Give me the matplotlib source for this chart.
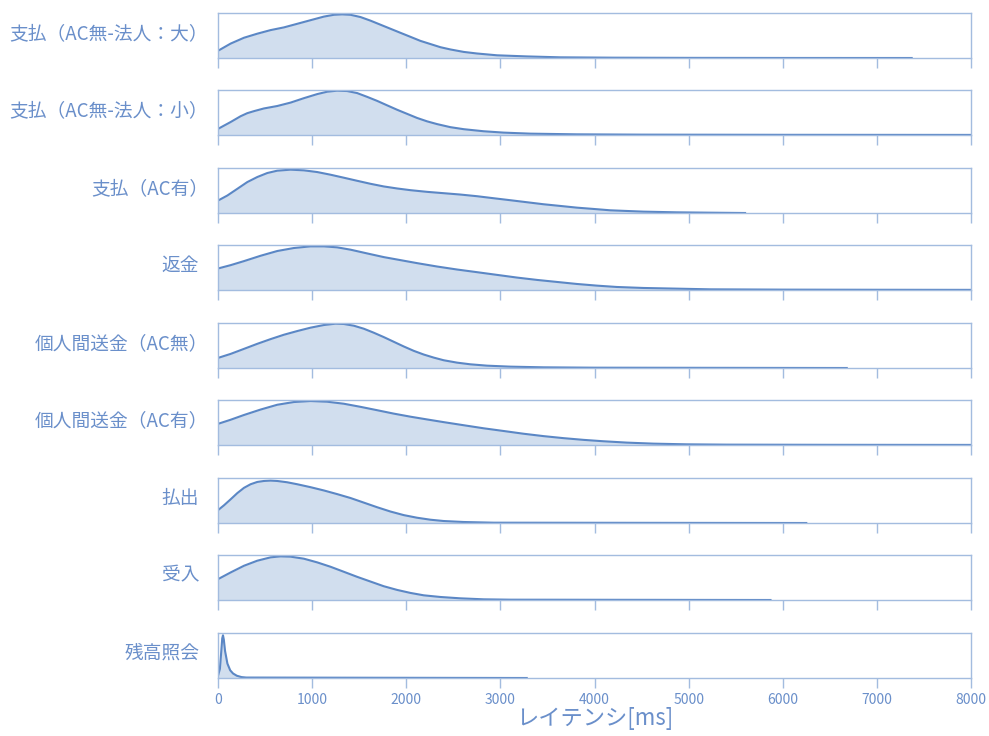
import numpy as np
import matplotlib
matplotlib.use("Agg")
import matplotlib.pyplot as plt

plt.rcParams['font.family'] = ['Noto Sans CJK JP', 'DejaVu Sans']

# labels, top to bottom
labels = [
    "支払（AC無-法人：大）",
    "支払（AC無-法人：小）",
    "支払（AC有）",
    "返金",
    "個人間送金（AC無）",
    "個人間送金（AC有）",
    "払出",
    "受入",
    "残高照会",
]

# density curves (y scaled so the axes height is 1)
x_large = [0, 134, 276, 417, 559, 700, 842, 983, 1125, 1231, 1319, 1408, 1514, 1620,
           1726, 1832, 1938, 2045, 2151, 2257, 2363, 2469, 2611, 2752, 2964, 3283,
           3636, 4200, 5000, 6000, 7370]
y_large = [0.16, 0.32, 0.45, 0.54, 0.62, 0.68, 0.76, 0.84, 0.92, 0.96, 0.97, 0.96,
           0.91, 0.83, 0.74, 0.65, 0.56, 0.47, 0.38, 0.31, 0.24, 0.19, 0.135, 0.10,
           0.06, 0.035, 0.015, 0.007, 0.003, 0.001, 0.0]

x_small = [0, 134, 240, 311, 382, 488, 629, 771, 912, 1054, 1160, 1266, 1372, 1478,
           1584, 1691, 1797, 1903, 2009, 2115, 2222, 2328, 2469, 2611, 2823, 3035,
           3318, 3813, 4500, 6000, 8000]
y_small = [0.136, 0.288, 0.417, 0.485, 0.53, 0.59, 0.644, 0.72, 0.818, 0.909, 0.962,
           0.985, 0.977, 0.932, 0.848, 0.758, 0.659, 0.561, 0.47, 0.379, 0.303, 0.242,
           0.174, 0.129, 0.083, 0.053, 0.03, 0.015, 0.008, 0.004, 0.002]

x_ac = [0, 99, 205, 311, 417, 523, 629, 771, 912, 1054, 1195, 1337, 1478, 1620, 1761,
        1903, 2045, 2221, 2398, 2575, 2752, 2929, 3106, 3283, 3460, 3636, 3813, 3990,
        4167, 4521, 4874, 5228, 5600]
y_ac = [0.276, 0.388, 0.537, 0.687, 0.799, 0.888, 0.94, 0.963, 0.948, 0.91, 0.851,
        0.784, 0.716, 0.649, 0.59, 0.545, 0.507, 0.47, 0.44, 0.41, 0.373, 0.328, 0.284,
        0.239, 0.194, 0.157, 0.119, 0.09, 0.06, 0.03, 0.015, 0.007, 0.0]

x_refund = [0, 134, 276, 453, 629, 806, 983, 1125, 1266, 1408, 1584, 1761, 1938, 2115,
            2327, 2540, 2752, 2964, 3177, 3389, 3601, 3813, 4026, 4238, 4521, 4874,
            5228, 6000, 7000, 8000]
y_refund = [0.478, 0.552, 0.642, 0.761, 0.866, 0.933, 0.97, 0.97, 0.948, 0.896, 0.813,
            0.731, 0.664, 0.597, 0.522, 0.455, 0.396, 0.336, 0.276, 0.224, 0.179, 0.134,
            0.097, 0.067, 0.045, 0.03, 0.015, 0.008, 0.005, 0.003]

x_p2p_no = [0, 134, 276, 417, 559, 700, 842, 983, 1125, 1249, 1337, 1443, 1549, 1655,
            1761, 1868, 1974, 2080, 2186, 2292, 2398, 2540, 2681, 2858, 3106, 3460,
            3990, 6680]
y_p2p_no = [0.224, 0.313, 0.425, 0.537, 0.642, 0.739, 0.821, 0.896, 0.955, 0.985,
            0.978, 0.94, 0.873, 0.784, 0.687, 0.582, 0.478, 0.381, 0.299, 0.231, 0.172,
            0.119, 0.082, 0.052, 0.03, 0.015, 0.007, 0.0]

x_p2p_ac = [0, 134, 276, 453, 629, 806, 983, 1160, 1337, 1514, 1691, 1868, 2045, 2221,
            2398, 2611, 2823, 3035, 3247, 3460, 3672, 3884, 4096, 4344, 4627, 4980,
            5405, 6500, 8000]
y_p2p_ac = [0.47, 0.561, 0.667, 0.788, 0.894, 0.955, 0.977, 0.962, 0.917, 0.848, 0.773,
            0.697, 0.629, 0.568, 0.508, 0.439, 0.371, 0.311, 0.25, 0.197, 0.152, 0.114,
            0.083, 0.053, 0.03, 0.015, 0.008, 0.004, 0.002]

x_payout = [0, 64, 134, 205, 276, 346, 417, 488, 559, 629, 735, 842, 983, 1125, 1266,
            1408, 1549, 1691, 1832, 1974, 2115, 2257, 2398, 2611, 2929, 6250]
y_payout = [0.285, 0.394, 0.526, 0.664, 0.781, 0.861, 0.912, 0.934, 0.942, 0.934, 0.905,
            0.861, 0.796, 0.723, 0.642, 0.555, 0.453, 0.35, 0.255, 0.175, 0.117, 0.073,
            0.044, 0.022, 0.007, 0.0]

x_receive = [0, 134, 276, 417, 559, 665, 771, 912, 1054, 1195, 1337, 1478, 1620, 1761,
             1903, 2045, 2186, 2363, 2575, 2823, 3106, 5870]
y_receive = [0.463, 0.612, 0.761, 0.873, 0.948, 0.97, 0.963, 0.918, 0.836, 0.739, 0.627,
             0.515, 0.41, 0.306, 0.224, 0.157, 0.104, 0.067, 0.037, 0.015, 0.007, 0.0]

x_balance = [0, 20, 35, 45, 53, 62, 75, 100, 130, 160, 200, 250, 300, 3280]
y_balance = [0.05, 0.2, 0.6, 0.88, 0.95, 0.85, 0.6, 0.32, 0.17, 0.1, 0.05, 0.02, 0.01, 0.0]

curves = [
    (x_large, y_large), (x_small, y_small), (x_ac, y_ac), (x_refund, y_refund),
    (x_p2p_no, y_p2p_no), (x_p2p_ac, y_p2p_ac), (x_payout, y_payout),
    (x_receive, y_receive), (x_balance, y_balance),
]

xticks = [0, 1000, 2000, 3000, 4000, 5000, 6000, 7000, 8000]

line_c = "#5b87c5"
fill_c = "#d1deee"
frame_c = "#a3bcdf"
text_c = "#6a8fca"

W, H = 989, 736
fig = plt.figure(figsize=(W / 100, H / 100), dpi=100)

tops = [13, 90, 168, 245, 323, 400, 478, 555, 633]
for i, (lab, (xs, ys)) in enumerate(zip(labels, curves)):
    ax = fig.add_axes([218 / W, 1 - (tops[i] + 45) / H, 753 / W, 45 / H])
    ax.fill_between(xs, ys, 0, color=fill_c, lw=0)
    ax.plot(xs, ys, color=line_c, lw=1.5, solid_joinstyle="round")
    ax.set_xlim(0, 8000)
    ax.set_ylim(0, 1)
    ax.set_yticks([])
    ax.set_xticks(xticks)
    ax.tick_params(axis="x", length=7, width=1, color=frame_c, direction="out",
                   labelcolor=text_c, labelsize=10)
    if i < len(labels) - 1:
        ax.tick_params(axis="x", labelbottom=False)
    for s in ax.spines.values():
        s.set_color(frame_c)
        s.set_linewidth(1)
    # the full-width bracket carries blank space on its right, so nudge the others
    off = -0.013 if lab.endswith("）") else -0.025
    ax.text(off, 0.55, lab, transform=ax.transAxes, ha="right", va="center",
            color=text_c, fontsize=13.5)
    if i == len(labels) - 1:
        ax.set_xlabel("レイテンシ[ms]", color=text_c, fontsize=16, labelpad=0)

fig.savefig("out.png", dpi=100)
